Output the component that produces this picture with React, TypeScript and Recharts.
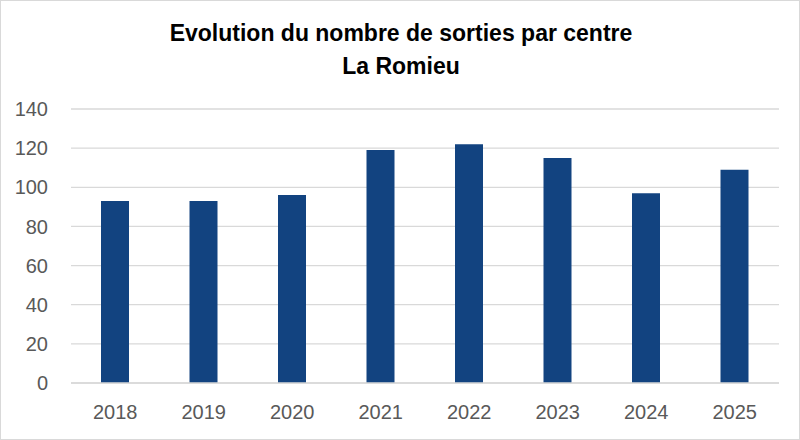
import { BarChart, Bar, XAxis, YAxis, CartesianGrid } from "recharts";

const years = ["2018", "2019", "2020", "2021", "2022", "2023", "2024", "2025"];
const sorties = [93, 93, 96, 119, 122, 115, 97, 109];
const yTicks = [0, 20, 40, 60, 80, 100, 120, 140];

const data = years.map((year, i) => ({ year, sorties: sorties[i] }));

const font = "'Liberation Sans', Arial, sans-serif";

export default function App() {
  return (
    <div
      style={{
        position: "absolute",
        left: 0,
        top: 0,
        width: 800,
        height: 440,
        background: "#fff",
        boxSizing: "border-box",
        border: "1px solid #d9d9d9",
        fontFamily: font,
      }}
    >
      <div
        style={{
          position: "absolute",
          left: 0,
          top: 16,
          width: 800,
          textAlign: "center",
          fontWeight: "bold",
          fontSize: 23,
          lineHeight: "33px",
          color: "#000",
        }}
      >
        Evolution du nombre de sorties par centre
        <br />
        La Romieu
      </div>
      <div style={{ position: "absolute", left: -1, top: -1 }}>
        <BarChart
          width={800}
          height={440}
          data={data}
          margin={{ top: 109, right: 21, bottom: 0, left: 0 }}
        >
          <CartesianGrid vertical={false} stroke="#d9d9d9" strokeWidth={1.3} />
          <XAxis
            dataKey="year"
            height={57}
            tickLine={false}
            axisLine={{ stroke: "#d9d9d9", strokeWidth: 1.3 }}
            tickMargin={16}
            tick={{ fill: "#595959", fontSize: 20, fontFamily: font }}
          />
          <YAxis
            width={71}
            domain={[0, 140]}
            ticks={yTicks}
            interval={0}
            tickLine={false}
            axisLine={false}
            tickMargin={17}
            tick={{ fill: "#595959", fontSize: 20, fontFamily: font }}
          />
          <Bar dataKey="sorties" fill="#124380" barSize={28} isAnimationActive={false} />
        </BarChart>
      </div>
    </div>
  );
}
